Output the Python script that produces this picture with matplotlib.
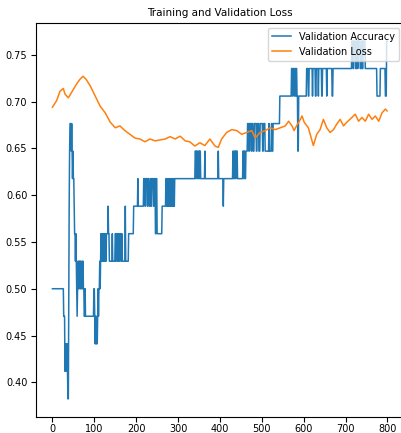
import numpy as np
import matplotlib
matplotlib.use("Agg")
import matplotlib.pyplot as plt

acc_runs = [
    (17, 27), (16, 3),
    (14, 1), (15, 1), (14, 1), (15, 1), (14, 1), (15, 1), (14, 1),
    (13, 2), (17, 1), (20, 1), (22, 1), (23, 3),
    (22, 1), (23, 1), (22, 1),
    (21, 1), (22, 1), (21, 2), (20, 1),
    (19, 2), (18, 1), (19, 1), (18, 1),
    (17, 1), (16, 1), (17, 1), (18, 1), (17, 1),
    (18, 1), (17, 1), (18, 2), (17, 1), (18, 1), (17, 2), (18, 1), (17, 1), (18, 1), (17, 2), (16, 2), (17, 1),
    (16, 20), (17, 2), (16, 1),
    (15, 1), (16, 1), (15, 2), (16, 1), (15, 1),
    (16, 1), (17, 1), (16, 1), (17, 2),
    (18, 1), (17, 1), (18, 1), (19, 1), (18, 1), (19, 1), (18, 1), (19, 1), (18, 1), (19, 2), (18, 1), (19, 1),
    (18, 1), (19, 1), (18, 1), (19, 2),
    (19, 2), (20, 1), (19, 2), (18, 2),
    (18, 5), (19, 1), (18, 6),
    (19, 2), (18, 1), (19, 3), (18, 1), (19, 2), (18, 2), (19, 3), (18, 1), (19, 2),
    (18, 7), (20, 1), (18, 7), (19, 12),
    (20, 10), (21, 1), (20, 13),
    (21, 3), (20, 2), (21, 4), (20, 1), (21, 3), (20, 3), (21, 2), (20, 1), (21, 4), (20, 2), (21, 3), (19, 2), (21, 2),
    (19, 12), (20, 9),
    (21, 2), (20, 1), (21, 1), (20, 2), (21, 1), (20, 1), (21, 2), (20, 1), (21, 1), (20, 2), (21, 1), (20, 1),
    (21, 2), (20, 1), (21, 1), (20, 1), (21, 2),
    (21, 47),
    (22, 2), (21, 1), (22, 3), (21, 2), (22, 2), (21, 1), (22, 2),
    (21, 10), (22, 1), (21, 31), (22, 1), (21, 11), (20, 1), (21, 22),
    (22, 2), (21, 2), (22, 3), (21, 1), (22, 3),
    (21, 13),
    (22, 2), (21, 1), (22, 2), (21, 2), (22, 4),
    (23, 3), (22, 2), (23, 4), (22, 1), (23, 3), (22, 3), (23, 5), (22, 2), (23, 4), (22, 3), (23, 6), (22, 2),
    (23, 4), (22, 5),
    (22, 4), (23, 1), (22, 5), (23, 2), (22, 2),
    (23, 16), (24, 28),
    (25, 2), (24, 1), (25, 3), (24, 2), (25, 2), (24, 1), (25, 2),
    (24, 2), (22, 2), (24, 3), (24, 16),
    (25, 4), (24, 2), (25, 8), (24, 1), (25, 6), (24, 2), (25, 5), (24, 1), (25, 7), (24, 2), (25, 10), (24, 1),
    (25, 12), (24, 2), (25, 45),
    (26, 3), (25, 2), (26, 4), (25, 3), (26, 2), (25, 1), (26, 5), (25, 3), (26, 2), (25, 2), (26, 5),
    (25, 28), (24, 8), (25, 12), (24, 3), (26, 2),
]

loss_epochs = [0, 10, 18, 26, 30, 38, 46, 58, 66, 73, 80, 90, 102, 114, 126, 138, 150, 161, 173, 185,
               197, 209, 221, 233, 245, 257, 269, 281, 293, 305, 317, 328, 340, 352, 364, 376, 388, 396,
               404, 416, 428, 440, 452, 464, 476, 484, 496, 508, 520, 532, 544, 556, 564, 572, 577, 584,
               592, 596, 601, 611, 623, 631, 639, 647, 655, 663, 671, 679, 687, 695, 703, 715, 723, 731,
               739, 747, 755, 763, 771, 779, 787, 795, 799]
loss_values = [0.694, 0.701, 0.711, 0.714, 0.708, 0.704, 0.710, 0.719, 0.724, 0.727, 0.724, 0.717, 0.706,
               0.695, 0.688, 0.678, 0.672, 0.674, 0.669, 0.665, 0.661, 0.660, 0.657, 0.660, 0.658, 0.659,
               0.660, 0.6625, 0.660, 0.663, 0.658, 0.657, 0.6525, 0.656, 0.653, 0.660, 0.6525, 0.651,
               0.660, 0.667, 0.670, 0.669, 0.665, 0.667, 0.669, 0.661, 0.667, 0.669, 0.672, 0.670, 0.672,
               0.674, 0.679, 0.674, 0.669, 0.675, 0.681, 0.6846, 0.678, 0.672, 0.653, 0.665, 0.670, 0.681,
               0.672, 0.667, 0.670, 0.676, 0.681, 0.674, 0.678, 0.683, 0.6865, 0.679, 0.683, 0.679,
               0.6865, 0.681, 0.6846, 0.679, 0.688, 0.692, 0.690]

acc = []
for level, n in acc_runs:
    acc += [level / 34] * n
epochs = np.arange(len(acc))

plt.rcParams['font.size'] = 7

fig = plt.figure(figsize=(4.01, 4.33), dpi=100)
ax = fig.add_axes([0.089, 0.0376, 0.918, 0.909])
ax.plot(epochs, acc, color='tab:blue', lw=1.1, label='Validation Accuracy')
ax.plot(loss_epochs, loss_values, color='tab:orange', lw=1.1, label='Validation Loss')
ax.set_xticks([0, 100, 200, 300, 400, 500, 600, 700, 800])
ax.set_yticks([0.40, 0.45, 0.50, 0.55, 0.60, 0.65, 0.70, 0.75])
ax.tick_params(axis='x', pad=2)
ax.tick_params(axis='y', pad=2.5)
ax.legend(loc='upper right', fontsize=7)
ax.set_title('Training and Validation Loss', fontsize=7.5, pad=5)

fig.savefig('out.png')
